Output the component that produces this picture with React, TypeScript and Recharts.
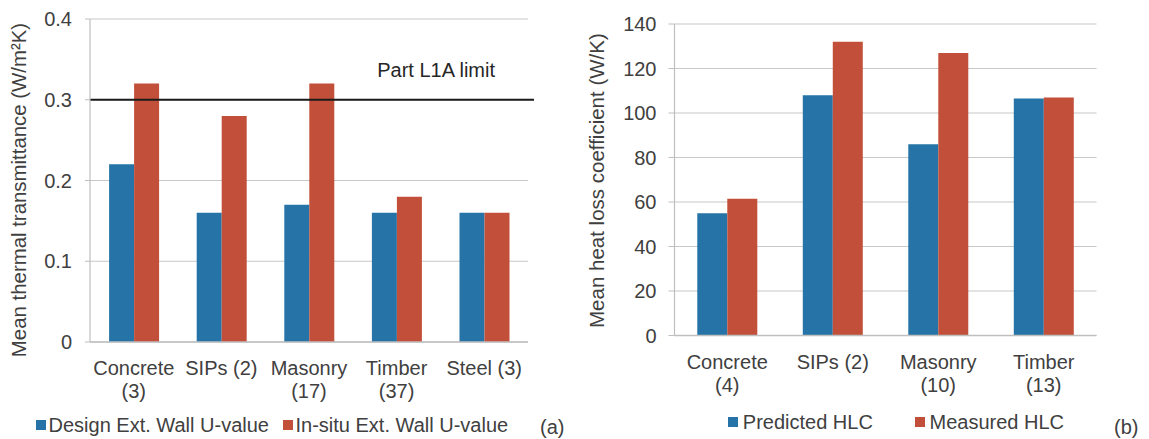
import React from 'react';
import { BarChart, Bar, XAxis, YAxis, CartesianGrid, ReferenceLine, Legend } from 'recharts';

// ---------- Data: panel (a) ----------
const categoriesA = ['Concrete (3)', 'SIPs (2)', 'Masonry (17)', 'Timber (37)', 'Steel (3)'];
const tickLinesA = [['Concrete', '(3)'], ['SIPs (2)'], ['Masonry', '(17)'], ['Timber', '(37)'], ['Steel (3)']];
const designU = [0.22, 0.16, 0.17, 0.16, 0.16];
const insituU = [0.32, 0.28, 0.32, 0.18, 0.16];
const uTicks = [0, 0.1, 0.2, 0.3, 0.4];
const partL1ALimit = 0.3;
const seriesNamesA = ['Design Ext. Wall U-value', 'In-situ Ext. Wall U-value'];

// ---------- Data: panel (b) ----------
const categoriesB = ['Concrete (4)', 'SIPs (2)', 'Masonry (10)', 'Timber (13)'];
const tickLinesB = [['Concrete', '(4)'], ['SIPs (2)'], ['Masonry', '(10)'], ['Timber', '(13)']];
const predictedHLC = [55, 108, 86, 106.5];
const measuredHLC = [61.5, 132, 127, 107];
const hlcTicks = [0, 20, 40, 60, 80, 100, 120, 140];
const seriesNamesB = ['Predicted HLC', 'Measured HLC'];

const dataA = categoriesA.map((name, i) => ({ name, design: designU[i], insitu: insituU[i] }));
const dataB = categoriesB.map((name, i) => ({ name, predicted: predictedHLC[i], measured: measuredHLC[i] }));

const BLUE = '#2573A7';
const RED = '#C24F3A';
const TEXT = '#404040';
const GRID = '#c8c8c8';
const AXIS = '#bfbfbf';
const FONT = "'Liberation Sans', Arial, sans-serif";

const makeXTick = (lines: string[][]) => (props: any) => {
  const { x, y, index } = props;
  const ls = lines[index] || [String(props.payload?.value)];
  return (
    <text x={x} y={y} textAnchor="middle" fill={TEXT} fontSize={20} fontFamily={FONT}>
      {ls.map((l, i) => (
        <tspan key={i} x={x} y={y + 33 + i * 23}>{l}</tspan>
      ))}
    </text>
  );
};

const LegendBox = (props: any) => {
  const { payload, layout, order } = props;
  const items = [...(payload || [])].sort(
    (a: any, b: any) => order.indexOf(a.value) - order.indexOf(b.value)
  );
  return (
    <div style={{ position: 'relative', height: 24, width: '100%' }}>
      {items.map((p: any, i: number) => (
        <div
          key={i}
          style={{
            position: 'absolute',
            left: layout[i].x,
            top: 0,
            height: 24,
            display: 'flex',
            alignItems: 'center',
            whiteSpace: 'nowrap',
          }}
        >
          <span style={{ display: 'inline-block', width: 10, height: 10, background: p.color, marginRight: layout[i].gap }} />
          <span style={{ fontSize: 20, color: TEXT, fontFamily: FONT, lineHeight: '24px' }}>{p.value}</span>
        </div>
      ))}
    </div>
  );
};

const legendLayoutA = [{ x: 36, gap: 2.5 }, { x: 283, gap: 2.5 }];
const legendLayoutB = [{ x: 148.3, gap: 4.5 }, { x: 335, gap: 4.5 }];

export default function App() {
  return (
    <div style={{ position: 'absolute', left: 0, top: 0, width: 1149, height: 439, background: '#fff', fontFamily: FONT }}>
      {/* Panel (a) */}
      <div style={{ position: 'absolute', left: 0, top: 0 }}>
        <BarChart
          width={580}
          height={439}
          data={dataA}
          margin={{ top: 19, right: 52, left: 0, bottom: 37 }}
          barCategoryGap="21.8%"
          barGap={0}
        >
          <CartesianGrid vertical={false} stroke={GRID} strokeWidth={1.2} />
          <XAxis
            dataKey="name"
            height={60}
            tickLine={false}
            tickSize={0}
            tickMargin={0}
            axisLine={{ stroke: AXIS, strokeWidth: 1.5 }}
            interval={0}
            tick={makeXTick(tickLinesA)}
          />
          <YAxis
            width={90}
            domain={[0, 0.4]}
            ticks={uTicks}
            tickFormatter={(v: number) => (v === 0 ? '0' : String(v))}
            tick={{ fill: TEXT, fontSize: 20 }}
            tickSize={5}
            tickMargin={13}
            tickLine={{ stroke: AXIS }}
            axisLine={{ stroke: AXIS, strokeWidth: 1.2 }}
            label={{
              content: () => (
                <text
                  x={26}
                  y={190}
                  transform="rotate(-90, 26, 190)"
                  textAnchor="middle"
                  fill={TEXT}
                  fontSize={20.4}
                  fontFamily={FONT}
                >
                  Mean thermal transmittance (W/m²K)
                </text>
              ),
            }}
          />
          <Bar dataKey="design" name={seriesNamesA[0]} fill={BLUE} isAnimationActive={false} />
          <Bar dataKey="insitu" name={seriesNamesA[1]} fill={RED} isAnimationActive={false} />
          <ReferenceLine
            y={partL1ALimit}
            ifOverflow="visible"
            shape={(p: any) => (
              <g>
                <line x1={p.x1} y1={p.y1} x2={p.x2 + 6} y2={p.y2} stroke="#1a1a1a" strokeWidth={2} />
                <text x={p.x2 - 33} y={p.y1 - 22.5} textAnchor="end" fill="#262626" fontSize={20} fontFamily={FONT}>
                  Part L1A limit
                </text>
              </g>
            )}
          />
          <Legend
            layout="horizontal"
            align="center"
            verticalAlign="middle"
            wrapperStyle={{ left: 0, top: 413, width: 580, height: 24 }}
            content={(props: any) => <LegendBox {...props} layout={legendLayoutA} order={seriesNamesA} />}
          />
        </BarChart>
      </div>
      <div style={{ position: 'absolute', left: 540, top: 415.3, fontSize: 20, lineHeight: '24px', color: TEXT }}>(a)</div>

      {/* Panel (b) */}
      <div style={{ position: 'absolute', left: 580, top: 0 }}>
        <BarChart
          width={569}
          height={439}
          data={dataB}
          margin={{ top: 24, right: 52.5, left: 0, bottom: 43.5 }}
          barCategoryGap="21.6%"
          barGap={0}
        >
          <CartesianGrid vertical={false} stroke={GRID} strokeWidth={1.2} />
          <XAxis
            dataKey="name"
            height={60}
            tickLine={false}
            tickSize={0}
            tickMargin={0}
            axisLine={{ stroke: AXIS, strokeWidth: 1.5 }}
            interval={0}
            tick={makeXTick(tickLinesB)}
          />
          <YAxis
            width={94.5}
            domain={[0, 140]}
            ticks={hlcTicks}
            tick={{ fill: TEXT, fontSize: 20 }}
            tickSize={6}
            tickMargin={12}
            tickLine={{ stroke: AXIS }}
            axisLine={{ stroke: AXIS, strokeWidth: 1.2 }}
            label={{
              content: () => (
                <text
                  x={24}
                  y={180.6}
                  transform="rotate(-90, 24, 180.6)"
                  textAnchor="middle"
                  fill={TEXT}
                  fontSize={20.5}
                  fontFamily={FONT}
                >
                  Mean heat loss coefficient (W/K)
                </text>
              ),
            }}
          />
          <Bar dataKey="predicted" name={seriesNamesB[0]} fill={BLUE} isAnimationActive={false} />
          <Bar dataKey="measured" name={seriesNamesB[1]} fill={RED} isAnimationActive={false} />
          <Legend
            layout="horizontal"
            align="center"
            verticalAlign="middle"
            wrapperStyle={{ left: 0, top: 409.7, width: 569, height: 24 }}
            content={(props: any) => <LegendBox {...props} layout={legendLayoutB} order={seriesNamesB} />}
          />
        </BarChart>
      </div>
      <div style={{ position: 'absolute', left: 1114, top: 415.3, fontSize: 20, lineHeight: '24px', color: TEXT }}>(b)</div>
    </div>
  );
}
